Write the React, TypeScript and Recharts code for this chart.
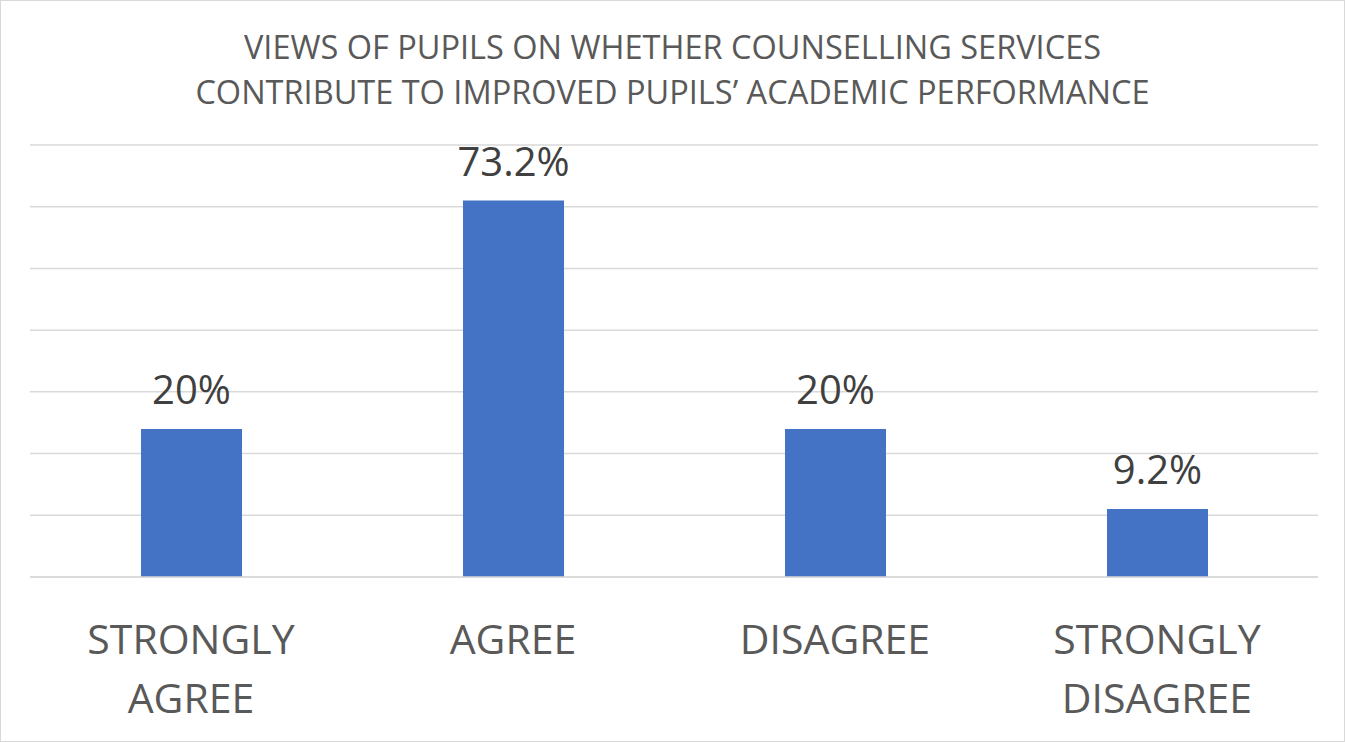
import React from 'react';
import { BarChart, Bar, XAxis, YAxis, CartesianGrid, LabelList } from 'recharts';

// response categories (line breaks as in the original figure)
const categories = ['STRONGLY\nAGREE', 'AGREE', 'DISAGREE', 'STRONGLY\nDISAGREE'];
// bar heights as plotted (counts of pupils)
const counts = [24, 61, 24, 11];
// data labels printed above the bars
const percentLabels = ['20%', '73.2%', '20%', '9.2%'];
const yTicks = [0, 10, 20, 30, 40, 50, 60, 70];

const data = categories.map((c, i) => ({ category: c, value: counts[i], label: percentLabels[i] }));

const FONT = '"Open Sans", "Liberation Sans", sans-serif';

const CategoryTick = (props: any) => {
  const { x, y, payload } = props;
  const lines: string[] = String(payload.value).split('\n');
  return (
    <text x={x} y={y} textAnchor="middle" fill="#595959" fontSize={41} fontFamily={FONT}>
      {lines.map((l, i) => (
        <tspan key={i} x={x} dy={i === 0 ? 69 : 59}>{l}</tspan>
      ))}
    </text>
  );
};

const App: React.FC = () => {
  return (
    <div style={{ position: 'absolute', left: 0, top: 0, width: 1345, height: 742, background: '#fff', boxSizing: 'border-box', border: '1px solid #d9d9d9', fontFamily: FONT }}>
      <div style={{ position: 'absolute', left: 0, right: 0, top: 23, textAlign: 'center', color: '#595959', fontSize: 32.5, lineHeight: '45px' }}>
        VIEWS OF PUPILS ON WHETHER COUNSELLING SERVICES<br />
        CONTRIBUTE TO IMPROVED PUPILS’ ACADEMIC PERFORMANCE
      </div>
      <div style={{ position: 'absolute', left: -1, top: -1 }}>
        <BarChart width={1345} height={742} data={data} margin={{ top: 145, right: 27, left: 30, bottom: 0 }}>
          <CartesianGrid vertical={false} stroke="#d9d9d9" strokeWidth={1.5} />
          <YAxis hide domain={[0, 70]} ticks={yTicks} />
          <XAxis dataKey="category" height={165} tickLine={false} axisLine={{ stroke: '#d9d9d9', strokeWidth: 1.5 }} tick={<CategoryTick />} interval={0} />
          <Bar dataKey="value" fill="#4472c4" barSize={101} isAnimationActive={false}>
            <LabelList dataKey="label" position="top" offset={25} fill="#404040" fontSize={40} fontFamily={FONT} />
          </Bar>
        </BarChart>
      </div>
    </div>
  );
};

export default App;
